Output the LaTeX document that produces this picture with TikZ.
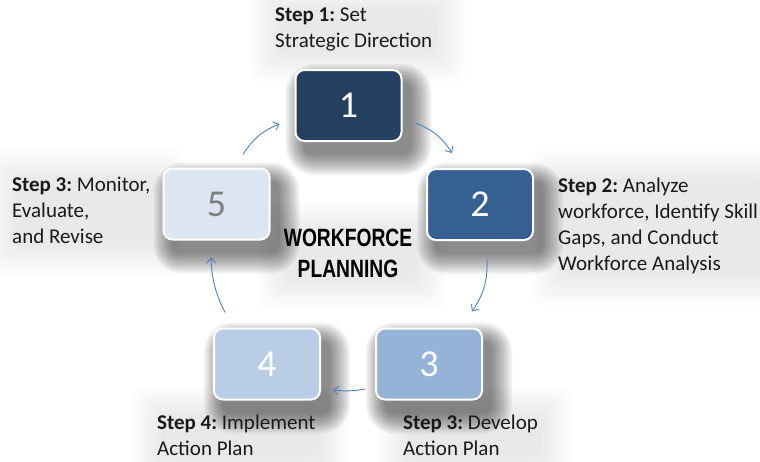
\documentclass[tikz,border=0pt]{standalone}
\usepackage{fontspec}
\setmainfont{Carlito}
\newfontfamily\titlefont{Liberation Sans}
\usetikzlibrary{arrows.meta,backgrounds}
\definecolor{cOne}{HTML}{243F60}
\definecolor{cTwo}{HTML}{366092}
\definecolor{cThree}{HTML}{95B3D7}
\definecolor{cFour}{HTML}{B9CDE5}
\definecolor{cFive}{HTML}{DCE6F2}
\definecolor{arrowblue}{HTML}{4F81BD}
\definecolor{numgrey}{HTML}{7F7F7F}
\definecolor{txt}{HTML}{1A1A1A}
\frenchspacing
\tikzset{
  stepbox/.style={rounded corners=9pt, draw=white, line width=2pt,
    minimum width=106pt, minimum height=71pt, inner sep=0pt,
    text=white, font=\fontsize{38}{38}\selectfont},
  steptext/.style={anchor=base west, align=left, inner sep=0pt, text=txt,
    font=\fontsize{21}{26}\selectfont},
  cyclearrow/.style={draw=arrowblue, line width=0.9pt, -{Straight Barb[length=5pt,width=9pt]}, bend left=18},
  softshadow/.style={fill=black, opacity=0.05},
  softhaze/.style={fill=black, opacity=0.009}
}
\begin{document}
\begin{tikzpicture}[x=1pt,y=-1pt]
\useasboundingbox (0,0) rectangle (760,461);
% boxes
\node[stepbox, fill=cOne]   (n1) at (348.5,105.5) {1};
\node[stepbox, fill=cTwo]   (n2) at (480,204.5) {2};
\node[stepbox, fill=cThree] (n3) at (429,364) {3};
\node[stepbox, fill=cFour]  (n4) at (267,364) {4};
\node[stepbox, fill=cFive, text=numgrey] (n5) at (216.5,204) {5};
% center title
\node[inner sep=0pt, align=center, font=\titlefont\bfseries\fontsize{25}{31}\selectfont, xscale=0.77] (title) at (348,253) {WORKFORCE\\PLANNING};
% labels (anchored at the baseline of the last line)
\node[steptext] (t1) at (275,47) {\textbf{Step 1:} Set\\Strategic Direction};
\node[steptext] (t2) at (558,270) {\textbf{Step 2:} Analyze\\workforce, Identify Skill\\Gaps, and Conduct\\Workforce Analysis};
\node[steptext] (t3) at (403,455) {\textbf{Step 3:} Develop\\Action Plan};
\node[steptext] (t4) at (157,455) {\textbf{Step 4:} Implement\\Action Plan};
\node[steptext] (t5) at (12,243) {\textbf{Step 3:} Monitor,\\Evaluate,\\and Revise};
% arrows
\draw[cyclearrow] ([shift={(13,-19)}]n1.south east) to ([shift={(26,-15)}]n2.north west);
\draw[cyclearrow] ([shift={(7,18)}]n2.south) to ([shift={(-11,-16)}]n3.north east);
\draw[cyclearrow, bend left=8] ([shift={(-10,25)}]n3.west) to ([shift={(12,26)}]n4.east);
\draw[cyclearrow, bend left=12] ([shift={(12,-15)}]n4.north west) to ([shift={(-5.5,17)}]n5.south);
\draw[cyclearrow] ([shift={(26.5,-13)}]n5.north) to ([shift={(-15,18.5)}]n1.west);
% soft shadows and haze
\begin{scope}[on background layer]
  \fill[white] (0,0) rectangle (760,461);
  \foreach \t in {t1,t2,t3,t4,t5,title}{
    \foreach \r in {0,3,...,30}{
      \fill[softhaze, rounded corners=12pt]
        ([shift={(-\r+4,-\r+2)}]\t.north west) rectangle ([shift={(\r+4,\r+2)}]\t.south east);
    }
  }
  \foreach \n in {n1,n2,n3,n4,n5}{
    \foreach \r in {0,2,...,20}{
      \fill[softshadow, rounded corners=9pt+\r*1pt]
        ([shift={(9-\r*0.9,13-\r*0.9)}]\n.north west) rectangle ([shift={(9+\r,13+\r)}]\n.south east);
    }
  }
\end{scope}
\end{tikzpicture}
\end{document}
